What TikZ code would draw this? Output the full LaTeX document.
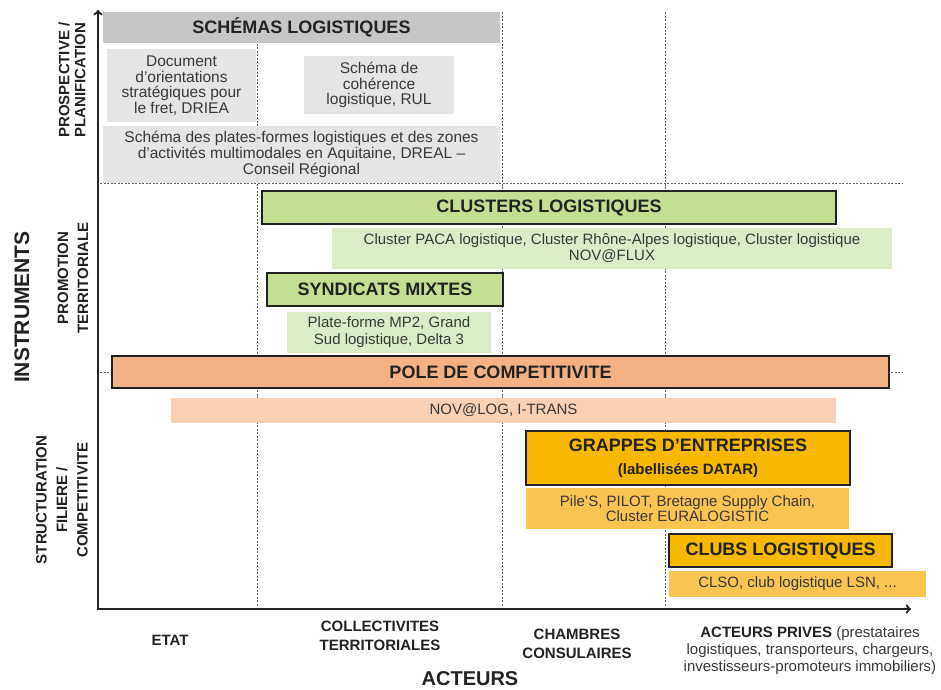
\documentclass[tikz,border=0pt]{standalone}
\usepackage{fontspec}
\setmainfont{Liberation Sans}
\usetikzlibrary{arrows}

\definecolor{headgrey}{HTML}{C6C6C6}
\definecolor{boxgrey}{HTML}{E0E0E0}
\definecolor{clustgreen}{HTML}{C4DF93}
\definecolor{palegreen}{HTML}{DAEDC7}
\definecolor{poleorange}{HTML}{F4B183}
\definecolor{paleorange}{HTML}{FAD0B4}
\definecolor{grapgold}{HTML}{F7B800}
\definecolor{palegold}{HTML}{FAC453}
\definecolor{inkgrey}{HTML}{222222}
\definecolor{textgrey}{HTML}{383838}
\definecolor{guidegrey}{HTML}{606060}

\newcommand\fsz[2]{\fontsize{#1}{#2}\selectfont}

\tikzset{
  headbox/.style={fill=headgrey, inner sep=0pt, font=\bfseries\fsz{18}{20}, text=inkgrey},
  greybox/.style={fill=boxgrey, fill opacity=0.85, text opacity=1, inner sep=0pt, align=center, font=\fsz{15.5}{15.5}, text=textgrey},
  bigbox/.style={draw=inkgrey, line width=2pt, inner sep=0pt, align=center, font=\bfseries\fsz{18}{23}, text=inkgrey},
  listbox/.style={inner sep=0pt, align=center, font=\fsz{15}{16}, text=textgrey},
  axislabel/.style={inner sep=0pt, align=center, font=\bfseries\fsz{15}{19}, text=inkgrey},
  sidelabel/.style={axislabel, rotate=90},
  guide/.style={draw=guidegrey, line width=0.8pt, dash pattern=on 2pt off 1.5pt},
}

\begin{document}
\begin{tikzpicture}[x=1pt,y=-1pt]
\useasboundingbox (0,0) rectangle (941,689);

% guide lines
\coordinate (v1t) at (257,12); \coordinate (v1b) at (257,607);
\coordinate (v2t) at (502,12); \coordinate (v2b) at (502,607);
\coordinate (v3t) at (665,12); \coordinate (v3b) at (665,607);
\coordinate (h1l) at (100,183); \coordinate (h1r) at (902,183);
\coordinate (h2l) at (100,372); \coordinate (h2r) at (902,372);
\draw[guide] (v1t)--(v1b);
\draw[guide] (v2t)--(v2b);
\draw[guide] (v3t)--(v3b);
\draw[guide] (h1l)--(h1r);
\draw[guide] (h2l)--(h2r);

% prospective / planification
\node[headbox, minimum width=397pt, minimum height=31pt] (schemas) at (301.5,27.5) {SCHÉMAS LOGISTIQUES};
\node[greybox, minimum width=149pt, minimum height=73pt] (driea) at (181.5,85.5) {Document\\d’orientations\\stratégiques pour\\le fret, DRIEA};
\node[greybox, minimum width=150pt, minimum height=58pt] (rul) at (379,85) {Schéma de\\cohérence\\logistique, RUL};
\node[greybox, minimum width=397pt, minimum height=57pt, font=\fsz{15.5}{16.3}] (dreal) at (301.5,154.5) {Schéma des plates-formes logistiques et des zones\\d’activités multimodales en Aquitaine, DREAL --\\Conseil Régional};

% promotion territoriale
\node[bigbox, fill=clustgreen, minimum width=574pt, minimum height=33pt] (clusters) at (549,207.5) {CLUSTERS LOGISTIQUES};
\node[listbox, fill=palegreen, minimum width=560pt, minimum height=41pt] (paca) at (612,248.5) {Cluster PACA logistique, Cluster Rhône-Alpes logistique, Cluster logistique\\NOV@FLUX};
\node[bigbox, fill=clustgreen, minimum width=236pt, minimum height=33pt] (syndicats) at (385,289.5) {SYNDICATS MIXTES};
\node[listbox, fill=palegreen, minimum width=204pt, minimum height=41pt, font=\fsz{15}{16.5}] (mp2) at (389,332) {Plate-forme MP2, Grand\\Sud logistique, Delta 3};

% structuration filiere
\node[bigbox, fill=poleorange, minimum width=777pt, minimum height=32pt] (pole) at (500.5,372) {POLE DE COMPETITIVITE};
\node[listbox, fill=paleorange, minimum width=665pt, minimum height=25pt] (novlog) at (503.5,410.5) {NOV@LOG, I-TRANS};
\node[bigbox, fill=grapgold, minimum width=324pt, minimum height=54pt] (grappes) at (688,458) {GRAPPES D’ENTREPRISES\\{\fsz{15}{15}(labellisées DATAR)}};
\node[listbox, fill=palegold, minimum width=323pt, minimum height=41pt, font=\fsz{15}{15}] (piles) at (687.5,508.5) {Pile’S, PILOT, Bretagne Supply Chain,\\Cluster EURALOGISTIC};
\node[bigbox, fill=grapgold, minimum width=223pt, minimum height=33pt] (clubs) at (780.5,550.5) {CLUBS LOGISTIQUES};
\node[listbox, fill=palegold, minimum width=257pt, minimum height=26pt] (clso) at (797.5,584) {CLSO, club logistique LSN, ...};

% axes
\coordinate (origin) at (98,609);
\coordinate (ytip) at (98,10);
\coordinate (xtip) at (911,609);
\draw[->,>=to, line width=2.2pt, inkgrey] (origin)--(ytip);
\draw[->,>=to, line width=2.2pt, inkgrey] ([xshift=-1.1pt]origin)--(xtip);

% instruments
\node[sidelabel, font=\bfseries\fsz{21}{21}] (instruments) at (22,307) {INSTRUMENTS};
\node[sidelabel, font=\bfseries\fsz{15}{16}] (prospective) at (72,80) {PROSPECTIVE /\\PLANIFICATION};
\node[sidelabel, font=\bfseries\fsz{15}{20}] (promotion) at (73,278) {PROMOTION\\TERRITORIALE};
\node[sidelabel, font=\bfseries\fsz{15}{20.5}] (structuration) at (62,500) {STRUCTURATION\\FILIERE /\\COMPETITIVITE};

% acteurs
\node[axislabel] (etat) at (170,640) {ETAT};
\node[axislabel] (collectivites) at (380,636) {COLLECTIVITES\\TERRITORIALES};
\node[axislabel] (chambres) at (577,644) {CHAMBRES\\CONSULAIRES};
\node[axislabel, font=\fsz{15}{17}, text=textgrey] (prives) at (810,651) {\textbf{\color{inkgrey}ACTEURS PRIVES} (prestataires\\logistiques, transporteurs, chargeurs,\\investisseurs-promoteurs immobiliers)};
\node[axislabel, font=\bfseries\fsz{20}{20}, anchor=base] (acteurs) at (470,685.5) {ACTEURS};
\end{tikzpicture}
\end{document}
